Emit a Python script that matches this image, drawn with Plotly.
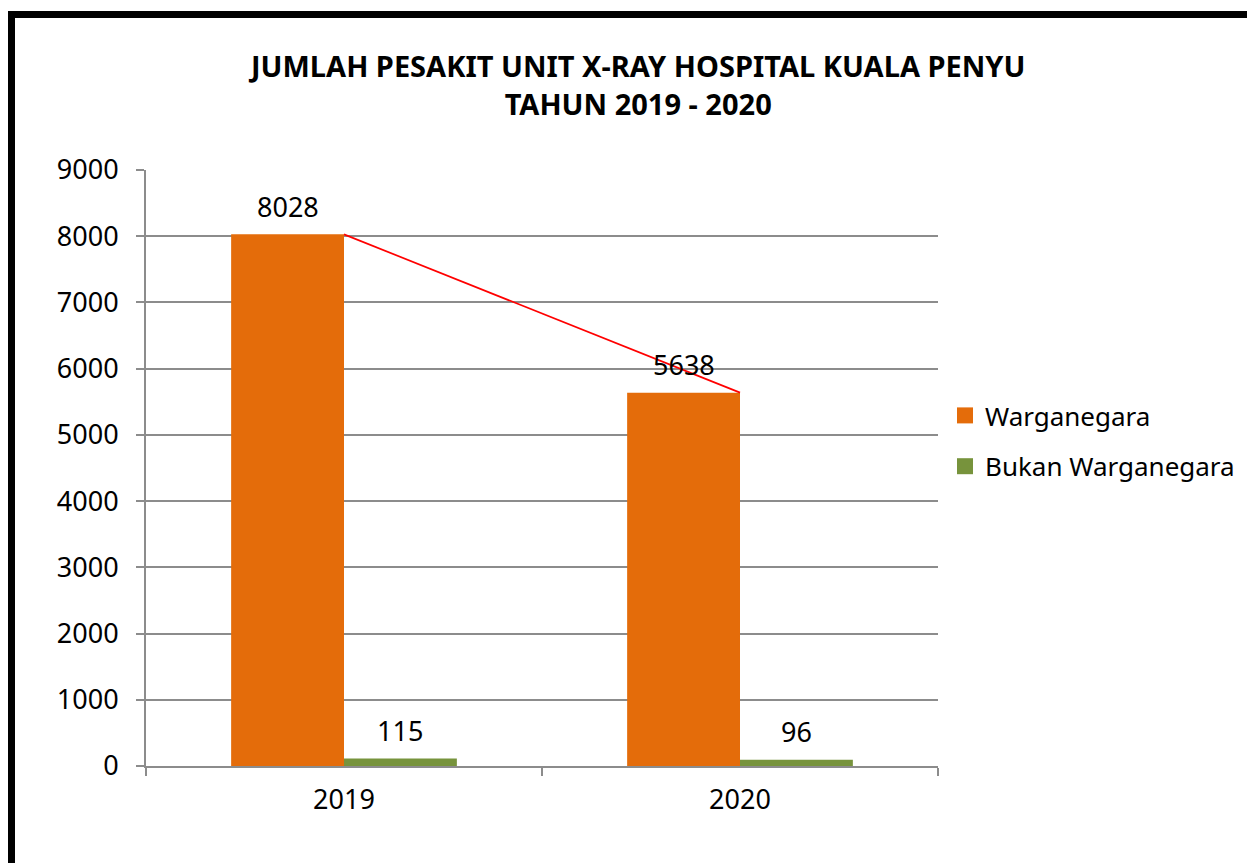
import plotly.graph_objects as go

years = ["2019", "2020"]
warganegara = [8028, 5638]
bukan_warganegara = [115, 96]
y_ticks = [0, 1000, 2000, 3000, 4000, 5000, 6000, 7000, 8000, 9000]
title_lines = ["JUMLAH PESAKIT UNIT X-RAY HOSPITAL KUALA PENYU", "TAHUN 2019 - 2020"]

OFF = 8  # default body margin of the html page
W, H = 1255 - OFF, 863 - OFF
# plot area in screen pixels
X0s, X1s, Y0s, Y1s = 146, 938, 170, 766
L, R = X0s - OFF, W - (X1s - OFF)
T, B = Y0s - OFF, H - (Y1s - OFF)
plot_w = W - L - R
plot_h = H - T - B

ORANGE = "#E46C0A"
GREEN = "#77933C"
GRID = "#8C8C8C"
FONT = "Noto Sans, Tahoma, sans-serif"
bargap = 0.43


def sx(px):
    """screen x pixel -> paper x"""
    return (px - OFF - L) / plot_w


def sy(py):
    """screen y pixel -> paper y"""
    return (H - B - (py - OFF)) / plot_h


fig = go.Figure()
fig.add_trace(go.Bar(x=years, y=warganegara, name="Warganegara",
                     marker=dict(color=ORANGE, line=dict(width=0)),
                     showlegend=False))
fig.add_trace(go.Bar(x=years, y=bukan_warganegara, name="Bukan Warganegara",
                     marker=dict(color=GREEN, line=dict(width=0)),
                     showlegend=False))
fig.add_trace(go.Scatter(x=years, y=warganegara, mode="lines",
                         line=dict(color="#FF0000", width=1.7),
                         showlegend=False, hoverinfo="skip"))
# legend entries with square swatches
for name, col, grp in (("Warganegara", ORANGE, "a"), ("Bukan Warganegara", GREEN, "b")):
    fig.add_trace(go.Scatter(x=[None], y=[None], mode="markers", name=name,
                             marker=dict(symbol="square", size=16, color=col),
                             legendgroup=grp, showlegend=True))

# data labels
cat_w = plot_w / len(years)
bar_w = cat_w * (1 - bargap) / 2
for series, sign in ((warganegara, -1), (bukan_warganegara, 1)):
    for i, v in enumerate(series):
        fig.add_annotation(x=i, y=v, xref="x", yref="y", text=str(v),
                           showarrow=False, xshift=sign * bar_w / 2,
                           yshift=28, yanchor="middle",
                           font=dict(family=FONT, size=27, color="black"))

# title
fig.add_annotation(x=sx(636), y=sy(84), xref="paper", yref="paper",
                   text="<b>" + "<br>".join(title_lines) + "</b>",
                   showarrow=False, xanchor="center", yanchor="middle",
                   font=dict(family=FONT, size=29, color="black"))

# black frame
fig.add_shape(type="rect", xref="paper", yref="paper",
              x0=sx(11.5), x1=sx(1300), y0=sy(900), y1=sy(14.5),
              line=dict(color="black", width=7), fillcolor="rgba(0,0,0,0)",
              layer="above")

fig.update_layout(
    width=W, height=H,
    margin=dict(l=L, r=R, t=T, b=B, autoexpand=False),
    paper_bgcolor="white", plot_bgcolor="white",
    barmode="group", bargap=bargap, bargroupgap=0,
    font=dict(family=FONT, size=27, color="black"),
    legend=dict(x=sx(945), y=sy(441),
                xanchor="left", yanchor="middle",
                traceorder="grouped", tracegroupgap=14,
                itemsizing="trace",
                font=dict(family=FONT, size=26, color="black"),
                bgcolor="rgba(0,0,0,0)"),
    xaxis=dict(type="category", range=[-0.5, 1.5], showline=True,
               linecolor=GRID, linewidth=2,
               ticks="outside", tickson="boundaries", ticklen=8,
               tickcolor=GRID, tickwidth=2, showgrid=False,
               ticklabelstandoff=9, tickangle=0,
               tickfont=dict(family=FONT, size=27, color="black")),
    yaxis=dict(range=[0, 9000], tickvals=y_ticks, showline=True,
               linecolor=GRID, linewidth=2, ticks="outside", ticklen=8,
               tickcolor=GRID, tickwidth=2, showgrid=True, gridcolor=GRID,
               gridwidth=2, zeroline=False, ticklabelstandoff=12,
               tickfont=dict(family=FONT, size=27, color="black")),
)

fig.write_html("out.html")
